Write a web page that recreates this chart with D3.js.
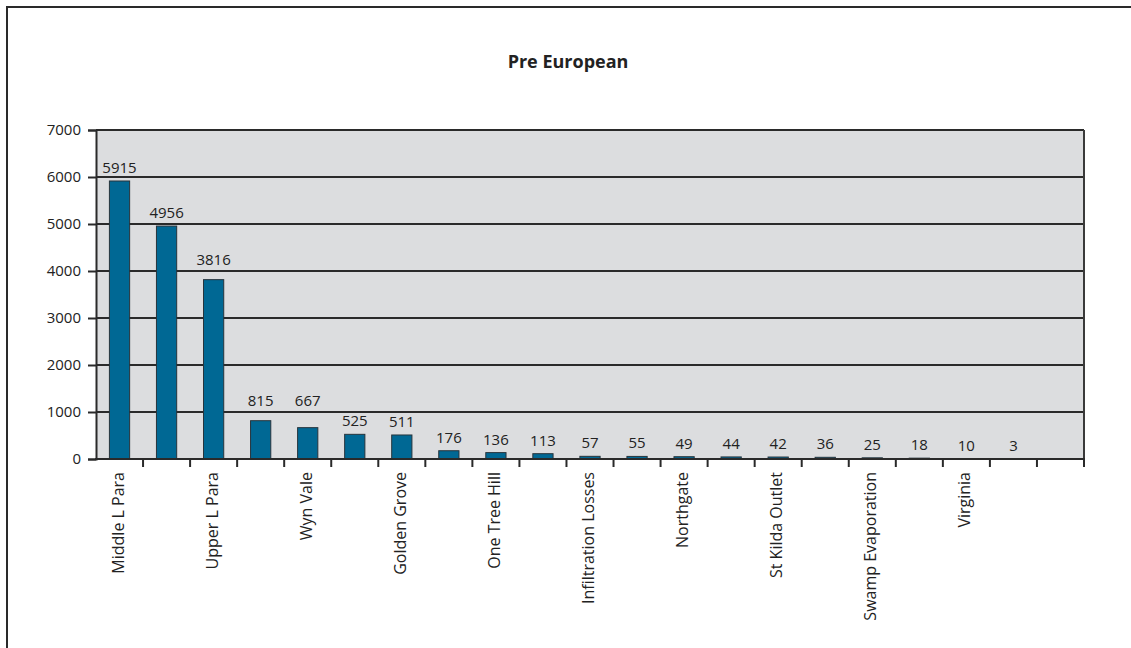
<!DOCTYPE html>
<html>
<head>
<meta charset="utf-8">
<script src="https://cdn.jsdelivr.net/npm/d3@7"></script>
<style>
  html, body { margin: 0; padding: 0; background: #fff; }
  svg { display: block; font-family: "Open Sans", "DejaVu Sans", sans-serif; }
</style>
</head>
<body>
<svg id="chart" width="1131" height="648"></svg>
<script>
// Catchment flows, pre-European conditions (every second name is shown on the axis)
const categories = [
  "Middle L Para", "", "Upper L Para", "", "Wyn Vale", "", "Golden Grove", "",
  "One Tree Hill", "", "Infiltration Losses", "", "Northgate", "", "St Kilda Outlet", "",
  "Swamp Evaporation", "", "Virginia", "", ""
];
const values = [
  5915, 4956, 3816, 815, 667, 525, 511, 176, 136, 113,
  57, 55, 49, 44, 42, 36, 25, 18, 10, 3, null
];
const yTicks = [0, 1000, 2000, 3000, 4000, 5000, 6000, 7000];
const title = "Pre European";

const svg = d3.select("#chart");
const plot = { left: 96, right: 1084, top: 130, bottom: 459 };

const slot = d3.scaleBand()
  .domain(d3.range(categories.length))
  .range([plot.left, plot.right])
  .padding(0);
const barW = slot.bandwidth() * 0.43;

const y = d3.scaleLinear().domain([0, 7000]).range([plot.bottom, plot.top]);

// outer frame
svg.append("rect")
  .attr("x", 7).attr("y", 7)
  .attr("width", 1200).attr("height", 800)
  .attr("fill", "#fff").attr("stroke", "#2a2a2a").attr("stroke-width", 2);

// title
svg.append("text")
  .attr("x", 568).attr("y", 68)
  .attr("text-anchor", "middle")
  .attr("font-size", 18).attr("font-weight", "bold")
  .attr("fill", "#222")
  .text(title);

// plot background
svg.append("rect")
  .attr("x", plot.left).attr("y", plot.top)
  .attr("width", plot.right - plot.left).attr("height", plot.bottom - plot.top)
  .attr("fill", "#dcdddf");

// gridlines
const gridVals = yTicks.filter(t => t > 0);
svg.append("g")
  .selectAll("line")
  .data(gridVals)
  .join("line")
  .attr("x1", plot.left).attr("x2", plot.right)
  .attr("y1", d => y(d)).attr("y2", d => y(d))
  .attr("stroke", "#2a2a2a").attr("stroke-width", 2);

// right edge of plot area
svg.append("line")
  .attr("x1", plot.right).attr("x2", plot.right)
  .attr("y1", plot.top).attr("y2", plot.bottom)
  .attr("stroke", "#3a3a3a").attr("stroke-width", 2);

// bars
const data = categories.map((c, i) => ({ i, name: c, value: values[i] }));
svg.append("g")
  .selectAll("rect")
  .data(data.filter(d => d.value != null))
  .join("rect")
  .attr("x", d => slot(d.i) + (slot.bandwidth() - barW) / 2)
  .attr("y", d => y(d.value))
  .attr("width", barW)
  .attr("height", d => y(0) - y(d.value))
  .attr("fill", "#006894")
  .attr("stroke", "#27343c").attr("stroke-width", 1);

// value labels sit above each bar, lifted clear of any gridline they would cross
function labelBaseline(v) {
  let b = y(v) - 8;
  for (const g of gridVals) {
    const gy = y(g);
    if (gy > b - 13 && gy < b + 3) b = gy - 6;
  }
  return b;
}
svg.append("g")
  .selectAll("text")
  .data(data.filter(d => d.value != null))
  .join("text")
  .attr("x", d => slot(d.i) + slot.bandwidth() / 2)
  .attr("y", d => labelBaseline(d.value))
  .attr("text-anchor", "middle")
  .attr("font-size", 15)
  .attr("fill", "#222")
  .text(d => d.value);

// y axis
const yAxis = d3.axisLeft(y).tickValues(yTicks).tickSize(8).tickPadding(7).tickFormat(d3.format("d"));
const gy = svg.append("g").attr("transform", `translate(${plot.left},0)`).call(yAxis);
gy.select(".domain").attr("stroke", "#2a2a2a").attr("stroke-width", 2);
gy.selectAll(".tick line").attr("stroke", "#2a2a2a").attr("stroke-width", 2);
gy.selectAll(".tick text")
  .attr("font-size", 15)
  .attr("font-family", "'Open Sans', sans-serif")
  .attr("fill", "#222");

// x axis line and category boundary ticks
svg.append("line")
  .attr("x1", plot.left - 1).attr("x2", plot.right + 1)
  .attr("y1", plot.bottom).attr("y2", plot.bottom)
  .attr("stroke", "#2a2a2a").attr("stroke-width", 2);
svg.append("g")
  .selectAll("line")
  .data(d3.range(1, categories.length + 1))
  .join("line")
  .attr("x1", i => slot(i - 1) + slot.bandwidth())
  .attr("x2", i => slot(i - 1) + slot.bandwidth())
  .attr("y1", plot.bottom).attr("y2", plot.bottom + 8)
  .attr("stroke", "#2a2a2a").attr("stroke-width", 2);

// category labels (rotated)
svg.append("g")
  .selectAll("text")
  .data(data.filter(d => d.name))
  .join("text")
  .attr("transform", d => `translate(${slot(d.i) + slot.bandwidth() / 2 + 4},${plot.bottom + 13}) rotate(-90)`)
  .attr("text-anchor", "end")
  .attr("font-size", 16)
  .attr("fill", "#222")
  .text(d => d.name);
</script>
</body>
</html>
